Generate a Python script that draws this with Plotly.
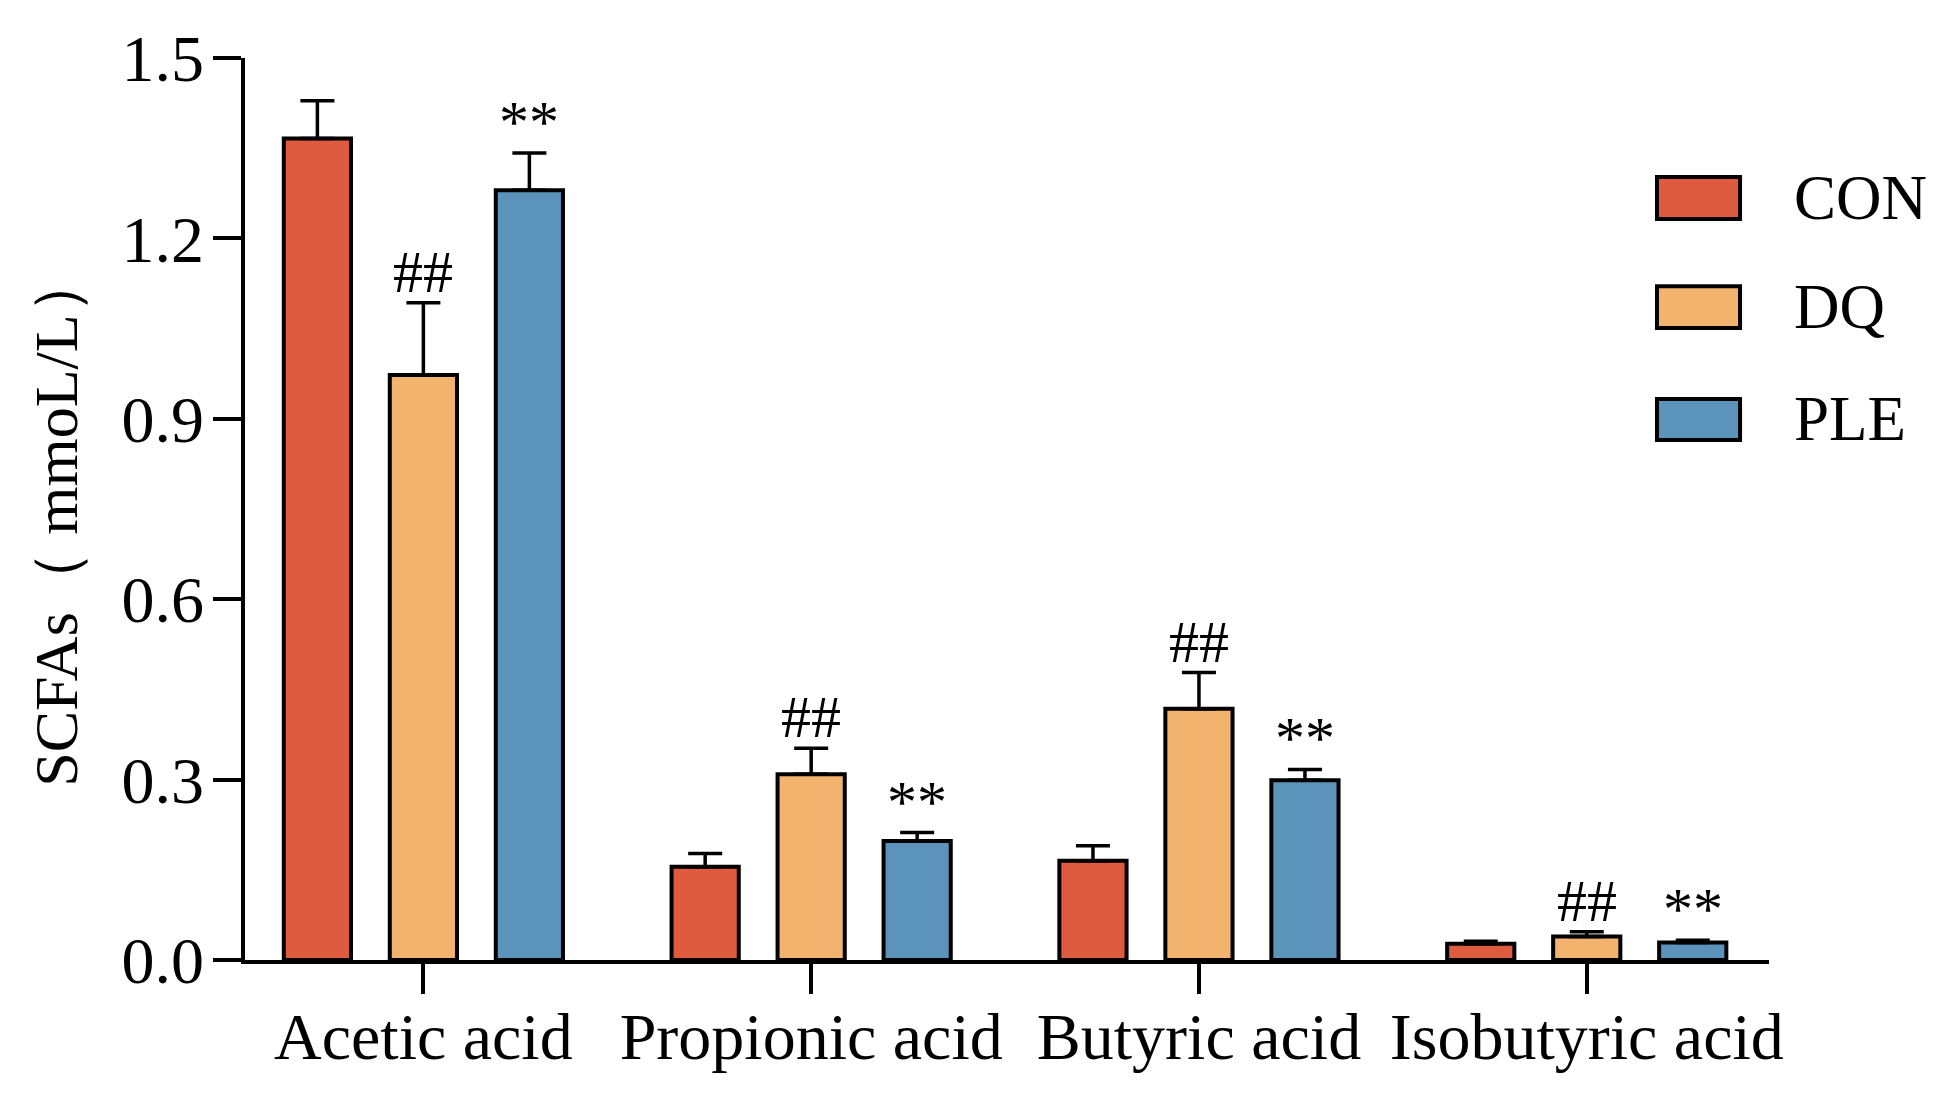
import plotly.graph_objects as go

categories = ["Acetic acid", "Propionic acid", "Butyric acid", "Isobutyric acid"]
groups = ["CON", "DQ", "PLE"]
colors = ["#DE5B3F", "#F2B36E", "#5B93BB"]

con_mean = [1.366, 0.155, 0.165, 0.027]
con_err = [0.063, 0.022, 0.025, 0.004]
dq_mean = [0.973, 0.309, 0.418, 0.039]
dq_err = [0.120, 0.043, 0.060, 0.008]
ple_mean = [1.280, 0.198, 0.299, 0.029]
ple_err = [0.062, 0.014, 0.018, 0.004]

dq_marks = ["##", "##", "##", "##"]
ple_marks = ["**", "**", "**", "**"]

y_title = "SCFAs（ mmoL/L）"

means = [con_mean, dq_mean, ple_mean]
errs = [con_err, dq_err, ple_err]

FONT = "Liberation Serif"
fig = go.Figure()
for g, c, m, e in zip(groups, colors, means, errs):
    fig.add_trace(go.Bar(
        name=g, x=categories, y=m,
        marker=dict(color=c, line=dict(color="black", width=4)),
        error_y=dict(type="data", array=e, arrayminus=[0]*len(e), symmetric=False,
                     color="black", thickness=3.5, width=17),
        showlegend=False,
    ))

# significance marks
slot = 0.273
for i, cat in enumerate(categories):
    for gi, marks in [(1, dq_marks), (2, ple_marks)]:
        top = means[gi][i] + errs[gi][i]
        fig.add_annotation(x=i + (gi - 1) * slot, y=top, xref="x", yref="y",
                           text=marks[i], showarrow=False, yanchor="bottom", yshift=-4,
                           font=dict(family=FONT, size=60, color="black"))

# custom legend
leg_y = [(0.8215, 0.868), (0.7007, 0.747), (0.5765, 0.622)]
for g, c, (y0, y1) in zip(groups, colors, leg_y):
    fig.add_shape(type="rect", xref="paper", yref="paper", x0=0.9265, x1=0.981, y0=y0, y1=y1,
                  fillcolor=c, line=dict(color="black", width=4))
    fig.add_annotation(xref="paper", yref="paper", x=1.015, y=(y0 + y1) / 2, text=g,
                       showarrow=False, xanchor="left", yanchor="middle",
                       font=dict(family=FONT, size=63, color="black"))

# y-axis title
fig.add_annotation(xref="paper", yref="paper", x=-0.124, y=0.488, text=y_title,
                   textangle=-90, showarrow=False, xanchor="center", yanchor="middle",
                   font=dict(family=FONT, size=62, color="black"))

fig.update_layout(
    width=1942, height=1116,
    margin=dict(l=237, r=181, t=50, b=164),
    paper_bgcolor="white", plot_bgcolor="white",
    barmode="group", bargap=0.18, bargroupgap=0.366,
    font=dict(family=FONT, size=66, color="black"),
)
fig.update_xaxes(
    range=[-0.46, 3.47], showline=True, linecolor="black", linewidth=3.5,
    ticks="outside", ticklen=30, tickwidth=3.5, tickcolor="black",
    tickfont=dict(family=FONT, size=66), showgrid=False, zeroline=False,
    ticklabelstandoff=-14,
)
fig.update_yaxes(
    range=[0, 1.5], dtick=0.3, tick0=0, tickformat=".1f",
    showline=True, linecolor="black", linewidth=3.5,
    ticks="outside", ticklen=28, tickwidth=3.5, tickcolor="black",
    tickfont=dict(family=FONT, size=66), showgrid=False, zeroline=False,
    ticklabelstandoff=-4,
)

fig.write_html("out.html")
